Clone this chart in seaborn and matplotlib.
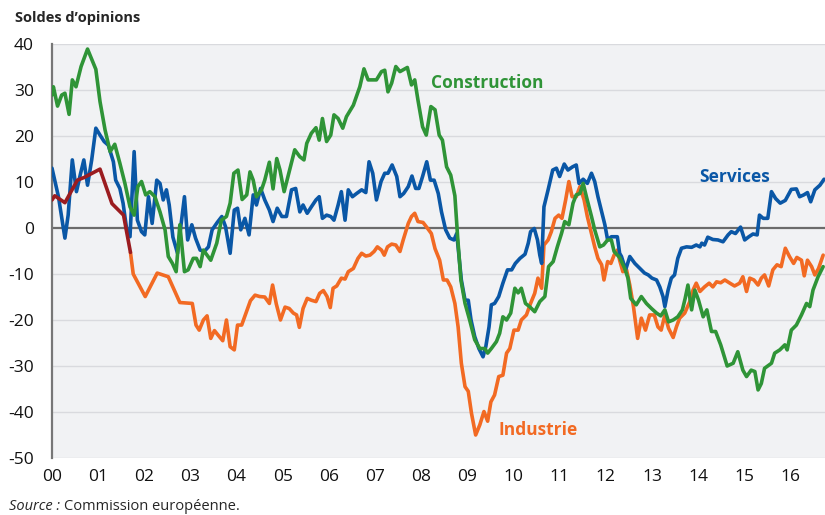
import pandas as pd
import matplotlib
matplotlib.use("Agg")
import matplotlib.pyplot as plt
import seaborn as sns

# temps en années depuis janvier 2000, valeurs en soldes d'opinions
construction_t = [0.00, 0.03, 0.12, 0.21, 0.28, 0.37, 0.44, 0.52, 0.63, 0.77, 0.95, 1.04, 1.15, 1.26, 1.36, 1.47,
                  1.58, 1.69, 1.78, 1.86, 1.94, 2.03, 2.12, 2.23, 2.34, 2.45, 2.52, 2.61, 2.69, 2.77, 2.87, 2.95,
                  3.06, 3.13, 3.21, 3.28, 3.44, 3.57, 3.67, 3.78, 3.86, 3.94, 4.03, 4.12, 4.22, 4.29, 4.36, 4.43,
                  4.54, 4.61, 4.71, 4.79, 4.87, 4.94, 5.03, 5.15, 5.26, 5.37, 5.46, 5.52, 5.62, 5.72, 5.79, 5.86,
                  5.95, 6.04, 6.11, 6.20, 6.30, 6.38, 6.53, 6.67, 6.76, 6.85, 7.03, 7.14, 7.21, 7.28, 7.36, 7.45,
                  7.54, 7.70, 7.79, 7.86, 7.93, 8.03, 8.11, 8.21, 8.30, 8.39, 8.46, 8.55, 8.64, 8.73, 8.79, 8.86,
                  8.95, 9.05, 9.16, 9.27, 9.38, 9.44, 9.52, 9.63, 9.70, 9.77, 9.85, 9.94, 10.03, 10.10, 10.17, 10.26,
                  10.35, 10.46, 10.57, 10.68, 10.76, 10.86, 10.95, 11.04, 11.11, 11.20, 11.29, 11.36, 11.44, 11.51,
                  11.58, 11.69, 11.76, 11.87, 11.95, 12.04, 12.12, 12.18, 12.30, 12.41, 12.48, 12.54, 12.66, 12.77,
                  12.88, 12.99, 13.10, 13.19, 13.28, 13.36, 13.46, 13.56, 13.66, 13.72, 13.78, 13.86, 13.93, 14.01,
                  14.11, 14.19, 14.29, 14.38, 14.49, 14.63, 14.76, 14.86, 14.97, 15.05, 15.15, 15.23, 15.30, 15.37,
                  15.44, 15.59, 15.66, 15.77, 15.88, 15.93, 16.02, 16.13, 16.24, 16.35, 16.42, 16.49, 16.60, 16.71]
construction_v = [28.9, 30.7, 26.5, 28.9, 29.3, 24.7, 32.2, 30.7, 35.1, 38.9, 34.5, 27.5, 21.3, 16.6, 18.2, 14.1,
                  9.7, 4.6, 2.8, 9.0, 10.1, 7.2, 7.9, 6.8, 3.5, -0.4, -6.2, -7.7, -9.5, 0.7, -9.5, -9.1,
                  -6.6, -6.6, -8.4, -4.8, -7.0, -3.3, 1.7, 2.5, 5.4, 11.9, 12.6, 6.2, 7.2, 12.2, 10.4, 6.8,
                  8.3, 10.4, 14.3, 8.5, 15.1, 12.6, 7.9, 12.6, 17.0, 15.5, 14.8, 18.4, 20.6, 21.8, 19.1, 23.8,
                  18.8, 20.2, 24.6, 23.8, 21.7, 24.2, 26.7, 30.7, 34.6, 32.2, 32.2, 34.0, 34.3, 29.6, 31.5, 35.1,
                  34.0, 34.9, 31.1, 32.2, 27.8, 22.0, 20.2, 26.4, 25.7, 20.2, 19.1, 13.3, 11.5, 7.0, -2.0, -11.3,
                  -16.4, -20.0, -24.3, -26.2, -26.2, -27.2, -26.2, -24.7, -22.9, -19.3, -20.0, -18.5, -13.1, -14.1, -13.1, -16.4,
                  -17.1, -18.2, -16.0, -14.9, -8.4, -7.3, -4.1, -1.2, 1.4, 0.7, 5.4, 7.2, 7.5, 9.7,
                  6.8, 2.5, -0.4, -4.1, -3.7, -2.6, -2.6, -5.1, -6.4, -8.8, -10.9, -15.3, -16.7, -14.9,
                  -16.4, -17.5, -18.5, -19.1, -17.8, -20.4, -20.0, -19.3, -17.8, -15.3, -12.4, -17.8, -13.5, -15.7,
                  -19.3, -17.8, -22.5, -22.5, -25.4, -30.0, -29.4, -26.9, -30.9, -32.3, -30.9, -31.2, -35.2, -33.8,
                  -30.5, -29.4, -27.2, -26.5, -25.4, -26.5, -22.2, -21.1, -18.9, -16.4, -17.1, -13.5, -10.6, -8.4]

services_t = [0.00, 0.14, 0.28, 0.35, 0.44, 0.53, 0.62, 0.69, 0.77, 0.86, 0.95, 1.04, 1.13, 1.22, 1.33, 1.38,
              1.47, 1.54, 1.62, 1.69, 1.78, 1.85, 1.94, 2.01, 2.09, 2.17, 2.27, 2.34, 2.41, 2.48, 2.54, 2.62,
              2.72, 2.87, 2.94, 3.03, 3.11, 3.21, 3.30, 3.39, 3.47, 3.58, 3.68, 3.76, 3.86, 3.95, 4.02, 4.09,
              4.18, 4.27, 4.36, 4.43, 4.52, 4.61, 4.71, 4.79, 4.88, 4.98, 5.08, 5.19, 5.28, 5.37, 5.44, 5.53,
              5.62, 5.72, 5.79, 5.86, 5.95, 6.04, 6.11, 6.20, 6.27, 6.35, 6.42, 6.51, 6.60, 6.71, 6.80, 6.87,
              6.95, 7.03, 7.13, 7.21, 7.28, 7.37, 7.47, 7.54, 7.62, 7.72, 7.80, 7.88, 7.95, 8.03, 8.12, 8.20,
              8.28, 8.37, 8.44, 8.53, 8.62, 8.71, 8.77, 8.82, 8.87, 8.95, 9.02, 9.08, 9.16, 9.25, 9.34, 9.40,
              9.47, 9.52, 9.59, 9.68, 9.77, 9.87, 9.96, 10.04, 10.14, 10.25, 10.32, 10.37, 10.45, 10.52, 10.57, 10.61,
              10.66, 10.75, 10.85, 10.93, 11.00, 11.10, 11.18, 11.28, 11.36, 11.42, 11.51, 11.60, 11.69, 11.76, 11.83, 11.91,
              11.98, 12.04, 12.12, 12.25, 12.30, 12.34, 12.43, 12.52, 12.63, 12.74, 12.84, 12.92, 13.00, 13.10, 13.17, 13.24,
              13.28, 13.35, 13.42, 13.49, 13.56, 13.64, 13.75, 13.86, 13.96, 14.04, 14.08, 14.14, 14.21, 14.32, 14.43, 14.54,
              14.65, 14.72, 14.81, 14.92, 15.01, 15.10, 15.19, 15.28, 15.33, 15.41, 15.51, 15.59, 15.68, 15.78, 15.89, 16.02,
              16.13, 16.20, 16.29, 16.37, 16.44, 16.53, 16.64, 16.73]
services_v = [13.0, 6.8, -2.2, 2.8, 14.8, 7.9, 11.9, 14.8, 9.3, 14.8, 21.7, 20.2, 18.8, 18.0, 14.4, 10.4,
              8.6, 5.4, -0.4, -1.9, 16.6, 1.7, -0.8, -1.5, 6.8, 1.0, 10.4, 9.7, 6.1, 8.3, 5.0, -2.0,
              -5.5, 6.8, -2.6, 0.7, -2.2, -4.8, -5.1, -4.1, -0.4, 1.2, 2.5, 0.3, -5.5, 3.9, 4.3, -0.4,
              2.1, -1.5, 7.2, 5.0, 8.6, 6.1, 3.9, 1.4, 4.3, 2.5, 2.5, 8.3, 8.6, 3.5, 5.0, 3.2,
              4.6, 6.1, 6.8, 2.1, 2.8, 2.5, 1.7, 5.0, 7.9, 1.7, 8.3, 6.8, 7.5, 8.3, 7.7, 14.4,
              11.9, 6.1, 10.1, 11.9, 11.9, 13.7, 11.2, 6.8, 7.5, 9.0, 11.3, 8.6, 8.6, 11.2, 14.4, 10.4,
              10.4, 7.5, 3.5, -0.4, -2.2, -2.6, -1.2, -6.2, -11.3, -15.7, -15.7, -20.0, -23.6, -26.2, -28.0, -25.8,
              -21.5, -16.7, -16.4, -14.9, -12.0, -9.1, -9.1, -7.7, -6.6, -5.7, -3.3, -0.8, -0.1, -2.6, -5.9, -7.7,
              4.6, 8.3, 12.6, 13.0, 11.2, 13.9, 12.6, 13.3, 13.7, 9.7, 10.6, 9.7, 11.9, 10.1, 6.8, 3.5,
              0.7, -2.6, -1.9, -1.9, -5.5, -6.2, -9.1, -6.2, -7.7, -8.8, -9.8, -10.2, -10.9, -11.3, -12.8, -14.9,
              -17.1, -13.5, -10.9, -10.2, -6.6, -4.4, -4.1, -4.2, -3.7, -4.1, -3.3, -3.7, -2.0, -2.5, -2.6, -3.0,
              -1.5, -0.8, -1.2, 0.2, -2.6, -1.9, -1.3, -1.5, 2.8, 2.1, 2.1, 7.9, 6.4, 5.4, 6.0, 8.4,
              8.5, 6.8, 7.2, 7.7, 5.7, 8.3, 9.3, 10.6]

# ancienne série industrie (jusqu'à fin 2001)
industrie_old_t = [0.00, 0.06, 0.28, 0.55, 0.70, 0.85, 1.04, 1.30, 1.55, 1.70]
industrie_old_v = [6.1, 7.0, 5.5, 10.4, 11.0, 11.8, 12.8, 5.3, 2.8, -5.3]

industrie_t = [1.70, 1.76, 2.02, 2.28, 2.52, 2.77, 3.04, 3.12, 3.19, 3.28, 3.36, 3.44, 3.52, 3.60, 3.70, 3.78,
               3.86, 3.95, 4.02, 4.11, 4.22, 4.30, 4.40, 4.50, 4.61, 4.71, 4.78, 4.86, 4.95, 5.05, 5.14, 5.23,
               5.30, 5.36, 5.44, 5.53, 5.62, 5.72, 5.80, 5.88, 5.96, 6.03, 6.09, 6.17, 6.27, 6.35, 6.42, 6.53,
               6.63, 6.71, 6.80, 6.89, 6.98, 7.05, 7.14, 7.20, 7.27, 7.36, 7.45, 7.54, 7.61, 7.72, 7.79, 7.86,
               7.93, 8.04, 8.14, 8.22, 8.30, 8.40, 8.48, 8.56, 8.64, 8.73, 8.80, 8.87, 8.95, 9.02, 9.09, 9.18,
               9.27, 9.36, 9.44, 9.51, 9.59, 9.68, 9.77, 9.85, 9.92, 10.01, 10.10, 10.17, 10.28, 10.37, 10.46, 10.53,
               10.61, 10.66, 10.75, 10.82, 10.90, 10.98, 11.05, 11.13, 11.20, 11.27, 11.36, 11.44, 11.53, 11.60, 11.69, 11.76,
               11.83, 11.91, 11.96, 12.04, 12.11, 12.18, 12.25, 12.30, 12.37, 12.45, 12.52, 12.60, 12.69, 12.77, 12.86, 12.95,
               13.05, 13.13, 13.20, 13.28, 13.36, 13.46, 13.53, 13.60, 13.71, 13.82, 13.89, 13.96, 14.04, 14.14, 14.24, 14.32,
               14.40, 14.49, 14.58, 14.69, 14.79, 14.90, 14.97, 15.05, 15.12, 15.21, 15.30, 15.37, 15.44, 15.53, 15.62, 15.71,
               15.80, 15.89, 15.98, 16.07, 16.14, 16.24, 16.30, 16.37, 16.46, 16.53, 16.61, 16.71]
industrie_v = [-5.3, -10.0, -14.9, -9.8, -10.6, -16.2, -16.4, -21.1, -22.2, -20.0, -19.1, -24.0, -22.3, -23.3, -24.5, -20.0,
               -25.8, -26.5, -21.1, -21.1, -18.0, -15.8, -14.6, -14.9, -15.0, -16.4, -12.4, -16.5, -20.0, -17.2, -17.5, -18.5,
               -18.9, -21.6, -17.5, -15.3, -15.7, -16.0, -14.2, -13.6, -14.9, -17.3, -13.1, -12.6, -10.9, -11.1, -9.5, -8.8,
               -6.6, -5.5, -6.1, -5.9, -5.1, -4.1, -4.8, -5.9, -4.1, -3.5, -3.7, -5.1, -2.6, 1.0, 2.5, 3.2,
               1.4, 1.2, -0.1, -1.2, -4.5, -7.0, -11.3, -11.3, -12.8, -16.4, -21.5, -29.4, -34.5, -35.5, -40.3, -45.0,
               -42.8, -39.9, -42.0, -37.8, -36.3, -32.3, -32.0, -27.2, -26.2, -22.2, -22.2, -20.0, -18.9, -16.4, -14.2, -10.9,
               -13.1, -3.7, -2.6, -0.8, 2.1, 2.8, 2.1, 6.1, 10.1, 6.8, 6.8, 9.0, 6.1, 2.5, -1.2, -4.1,
               -6.6, -8.0, -11.3, -7.3, -7.7, -5.9, -4.8, -7.0, -9.5, -9.1, -12.4, -17.1, -24.0, -19.6, -22.2, -18.9,
               -18.9, -21.5, -22.2, -18.9, -21.8, -23.8, -21.5, -19.6, -18.5, -16.0, -13.5, -12.0, -13.8, -12.8, -12.0, -12.8,
               -11.7, -11.9, -11.3, -12.0, -12.6, -12.0, -10.6, -13.8, -10.9, -11.3, -12.4, -10.9, -10.2, -12.6, -9.1, -8.0,
               -8.4, -4.4, -6.2, -7.7, -6.4, -7.0, -10.4, -7.0, -8.4, -10.2, -8.8, -5.9]

annees = list(range(0, 17))
annees_labels = ["%02d" % a for a in annees]
y_ticks = list(range(-50, 41, 10))

bleu = "#0a57a6"
vert = "#2f9437"
orange = "#f26a23"
rouge = "#9b1c20"

sns.set_style("white")
plt.rcParams["font.family"] = ["Open Sans", "DejaVu Sans"]

fig = plt.figure(figsize=(8.25, 5.15), dpi=100)
ax = fig.add_axes([52 / 825, 1 - 458 / 515, 773 / 825, 414 / 515])
ax.set_facecolor("#f1f2f4")

for y in y_ticks:
    if y == 0:
        ax.axhline(0, color="#6b6b6b", lw=1.6, zorder=2)
    else:
        ax.axhline(y, color="#d9dade", lw=1.0, zorder=1)

df_ind = pd.DataFrame({"t": industrie_t, "v": industrie_v})
df_old = pd.DataFrame({"t": industrie_old_t, "v": industrie_old_v})
df_ser = pd.DataFrame({"t": services_t, "v": services_v})
df_con = pd.DataFrame({"t": construction_t, "v": construction_v})

lw = 2.6
sns.lineplot(data=df_ind, x="t", y="v", color=orange, lw=lw, ax=ax, sort=False, zorder=3)
sns.lineplot(data=df_ser, x="t", y="v", color=bleu, lw=lw, ax=ax, sort=False, zorder=4)
sns.lineplot(data=df_con, x="t", y="v", color=vert, lw=lw, ax=ax, sort=False, zorder=5)
sns.lineplot(data=df_old, x="t", y="v", color=rouge, lw=lw, ax=ax, sort=False, zorder=6)

ax.set_xlim(0, 16.75)
ax.set_ylim(-50, 40)
ax.set_xlabel("")
ax.set_ylabel("")
ax.set_xticks(annees)
ax.set_xticklabels(annees_labels, fontsize=12.5, color="#111111")
ax.set_yticks(y_ticks)
ax.set_yticklabels([str(y) for y in y_ticks], fontsize=12.5, color="#111111")
ax.tick_params(axis="x", length=5, width=1, color="#888888", pad=3, direction="out")
ax.tick_params(axis="y", length=0, pad=13)

for side in ["top", "right", "bottom"]:
    ax.spines[side].set_visible(False)
ax.spines["left"].set_color("#777777")
ax.spines["left"].set_linewidth(1.6)

ax.text(8.22, 31.5, "Construction", color=vert, fontsize=12.5, fontweight="bold", va="center")
ax.text(14.02, 11.1, "Services", color=bleu, fontsize=12.5, fontweight="bold", va="center")
ax.text(9.68, -43.9, "Industrie", color=orange, fontsize=12.5, fontweight="bold", va="center")

fig.text(15 / 825, 1 - 18 / 515, "Soldes d\u2019opinions", fontsize=10.5, fontweight="bold", va="center")

src = fig.text(9 / 825, 1 - 506 / 515, "Source :", fontsize=10.5, style="italic", va="center")
fig.canvas.draw()
bb = src.get_window_extent()
fig.text((bb.x1 + 4) / 825, 1 - 506 / 515, "Commission européenne.", fontsize=10.5, va="center")

fig.savefig("out.png", dpi=100)
